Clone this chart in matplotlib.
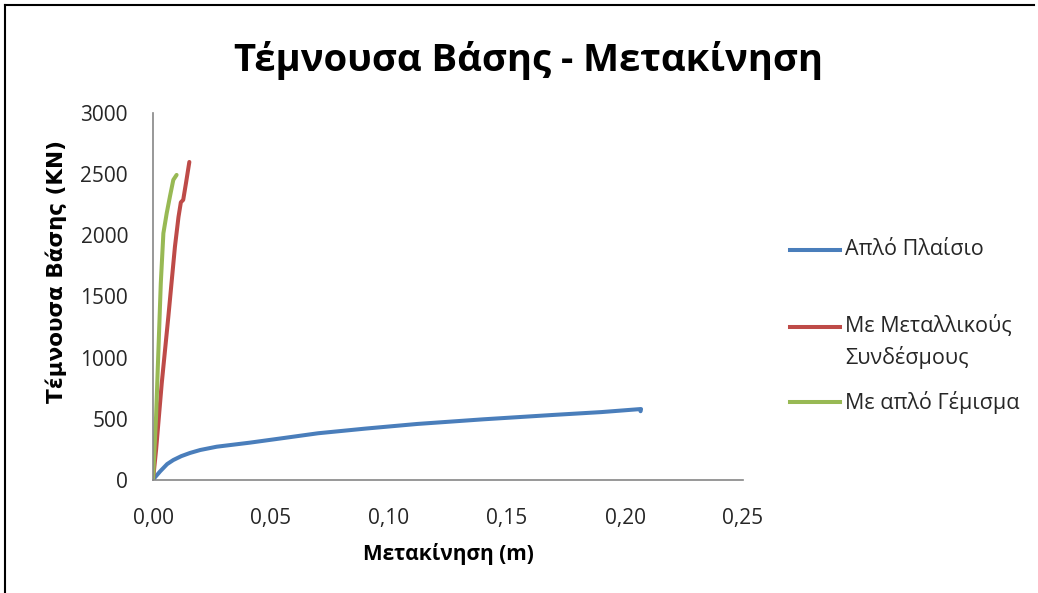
import matplotlib
matplotlib.use("Agg")
import matplotlib.pyplot as plt
from matplotlib.lines import Line2D
from matplotlib.ticker import FuncFormatter, MultipleLocator

plt.rcParams['font.family'] = ['Open Sans', 'DejaVu Sans']

# Displacement (m) and base shear (kN) for each model
bare_x = [0.0, 0.001, 0.003, 0.006, 0.0086, 0.012, 0.0157, 0.020, 0.027, 0.041,
          0.055, 0.070, 0.090, 0.112, 0.140, 0.169, 0.190, 0.2054, 0.2068, 0.2066]
bare_y = [0, 25, 70, 130, 163, 195, 221, 245, 272, 305,
          342, 382, 420, 458, 496, 531, 555, 578, 580, 562]

braced_x = [0.0, 0.0013, 0.0037, 0.0065, 0.0093, 0.0108, 0.0118, 0.0128, 0.0140, 0.0154]
braced_y = [0, 245, 790, 1335, 1908, 2150, 2270, 2290, 2430, 2600]

infill_x = [0.0, 0.0013, 0.0023, 0.0033, 0.0044, 0.0058, 0.0072, 0.0086, 0.0100]
infill_y = [0, 518, 1063, 1608, 2017, 2180, 2320, 2453, 2494]

series_labels = ["Απλό Πλαίσιο", "Με Μεταλλικούς\nΣυνδέσμους", "Με απλό Γέμισμα"]
series_colors = ["#4A7EBB", "#BE4B48", "#98B954"]

title = "Τέμνουσα Βάσης - Μετακίνηση"
xlabel = "Μετακίνηση (m)"
ylabel = "Τέμνουσα Βάσης (KN)"

fig = plt.figure(figsize=(10.38, 5.93), dpi=100)
ax = fig.add_axes([0.1474, 0.1906, 0.5684, 0.6188])

lw = 2.9
for xs, ys, c in zip([bare_x, braced_x, infill_x], [bare_y, braced_y, infill_y], series_colors):
    ax.plot(xs, ys, color=c, lw=lw, solid_capstyle='round', solid_joinstyle='round')

ax.set_xlim(0, 0.25)
ax.set_ylim(0, 3000)
ax.xaxis.set_major_locator(MultipleLocator(0.05))
ax.yaxis.set_major_locator(MultipleLocator(500))
ax.xaxis.set_major_formatter(FuncFormatter(lambda v, p: f"{v:.2f}".replace(".", ",")))
ax.yaxis.set_major_formatter(FuncFormatter(lambda v, p: f"{v:.0f}"))

for s in ["top", "right"]:
    ax.spines[s].set_visible(False)
for s in ["left", "bottom"]:
    ax.spines[s].set_color("#868686")
    ax.spines[s].set_linewidth(1.2)

ax.tick_params(axis='both', length=0, labelsize=15, colors="#262626")
ax.tick_params(axis='y', pad=18)
ax.tick_params(axis='x', pad=20)

ax.set_xlabel(xlabel, fontsize=15, fontweight='bold', labelpad=10)
ax.set_ylabel(ylabel, fontsize=15.5, fontweight='bold', family=['DejaVu Sans'])
ax.yaxis.set_label_coords(-0.145, 0.567)

fig.text(0.509, 0.898, title, ha='center', va='center', fontsize=27.5, fontweight='bold')

# Legend drawn entry by entry on the right
legend_pos = [(250 / 593), (342 / 593), (402 / 593)]
for lab, c, yp in zip(series_labels, series_colors, legend_pos):
    yf = 1 - yp
    handle_y = yf if "\n" not in lab else yf + 0.0245
    fig.add_artist(Line2D([790 / 1038, 840 / 1038], [handle_y, handle_y],
                          transform=fig.transFigure, color=c, lw=lw))
    fig.text(845 / 1038, yf, lab, ha='left', va='center', fontsize=15.5,
             linespacing=1.5, color="#262626")

# Outer chart frame (top and left edges)
fig.add_artist(Line2D([5 / 1038, 5 / 1038], [0, 1 - 5 / 593], transform=fig.transFigure,
                      color="black", lw=1.5))
fig.add_artist(Line2D([5 / 1038, 1034 / 1038], [1 - 5 / 593, 1 - 5 / 593],
                      transform=fig.transFigure, color="black", lw=1.5))

fig.savefig("out.png", dpi=100)
